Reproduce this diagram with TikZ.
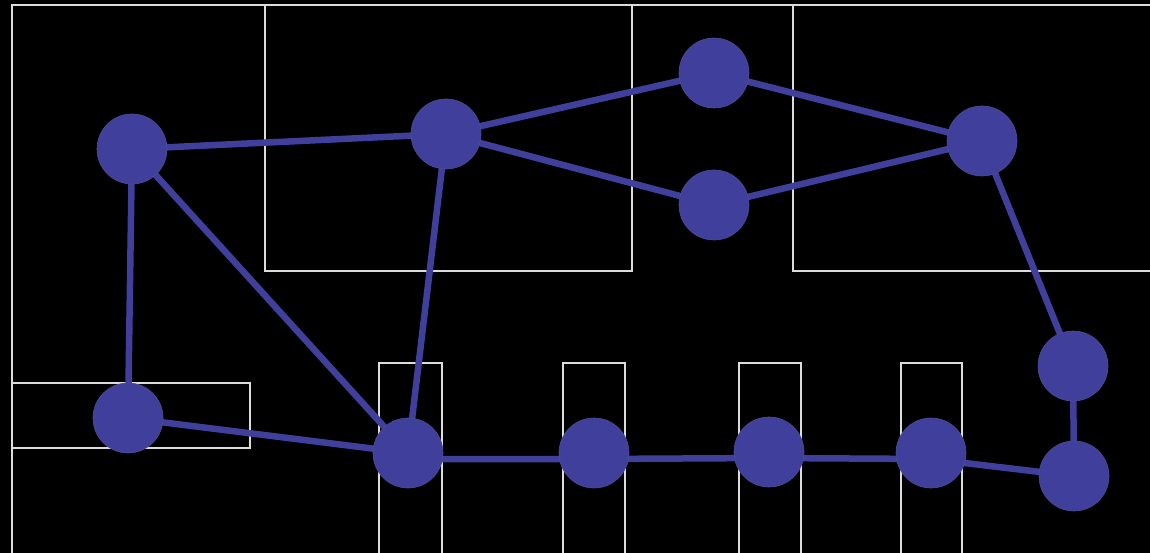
\documentclass[tikz,border=0pt]{standalone}
\usetikzlibrary{backgrounds}
\definecolor{nodeblue}{RGB}{64,64,156}
\definecolor{frameline}{RGB}{220,220,220}
\tikzset{
  vertex/.style={circle, fill=nodeblue, draw=nodeblue!80!gray, line width=0.6pt, minimum size=70pt, inner sep=0pt},
  edgeline/.style={draw=nodeblue, line width=6.5pt},
  frame/.style={draw=frameline, line width=2pt}
}
\begin{document}
\begin{tikzpicture}[x=1pt,y=-1pt]
% nodes
\node[vertex] (a) at (132,149) {};
\node[vertex] (b) at (128,418) {};
\node[vertex] (c) at (408,453) {};
\node[vertex] (l) at (446,134) {};
\node[vertex] (i) at (714,73) {};
\node[vertex] (j) at (714,205) {};
\node[vertex] (k) at (982,141) {};
\node[vertex] (g) at (1073,366) {};
\node[vertex] (h) at (1074,476) {};
\node[vertex] (d) at (594,453) {};
\node[vertex] (e) at (769,452) {};
\node[vertex] (f) at (931,453) {};
\begin{scope}[on background layer]
\fill[black] (0,0) rectangle (1150,553);
\begin{scope}
\clip (0,0) rectangle (1150,553);
% frame and boxes
\draw[frame] (12,560) -- (12,5) -- (1160,5);
\draw[frame] (265,5) -- (265,271) -- (632,271) -- (632,5);
\draw[frame] (793,5) -- (793,271) -- (1160,271);
\draw[frame] (12,383) rectangle (250,448);
\draw[frame] (379,560) -- (379,363) -- (442,363) -- (442,560);
\draw[frame] (563,560) -- (563,363) -- (625,363) -- (625,560);
\draw[frame] (739,560) -- (739,363) -- (801,363) -- (801,560);
\draw[frame] (901,560) -- (901,363) -- (962,363) -- (962,560);
\end{scope}
% edges
\draw[edgeline] (a.center) -- (l.center);
\draw[edgeline] (a.center) -- (b.center);
\draw[edgeline] (a.center) -- (c.center);
\draw[edgeline] (b.center) -- (c.center);
\draw[edgeline] (l.center) -- (c.center);
\draw[edgeline] (l.center) -- (i.center);
\draw[edgeline] (l.center) -- (j.center);
\draw[edgeline] (i.center) -- (k.center);
\draw[edgeline] (j.center) -- (k.center);
\draw[edgeline] (k.center) -- (g.center);
\draw[edgeline] (g.center) -- (h.center);
\draw[edgeline] ([yshift=-6pt]c.center) -- ([yshift=-6pt]d.center) -- ([yshift=-6pt]e.center) -- ([yshift=-6pt]f.center) -- (h.center);
\end{scope}
\useasboundingbox (0,0) rectangle (1150,553);
\end{tikzpicture}
\end{document}
